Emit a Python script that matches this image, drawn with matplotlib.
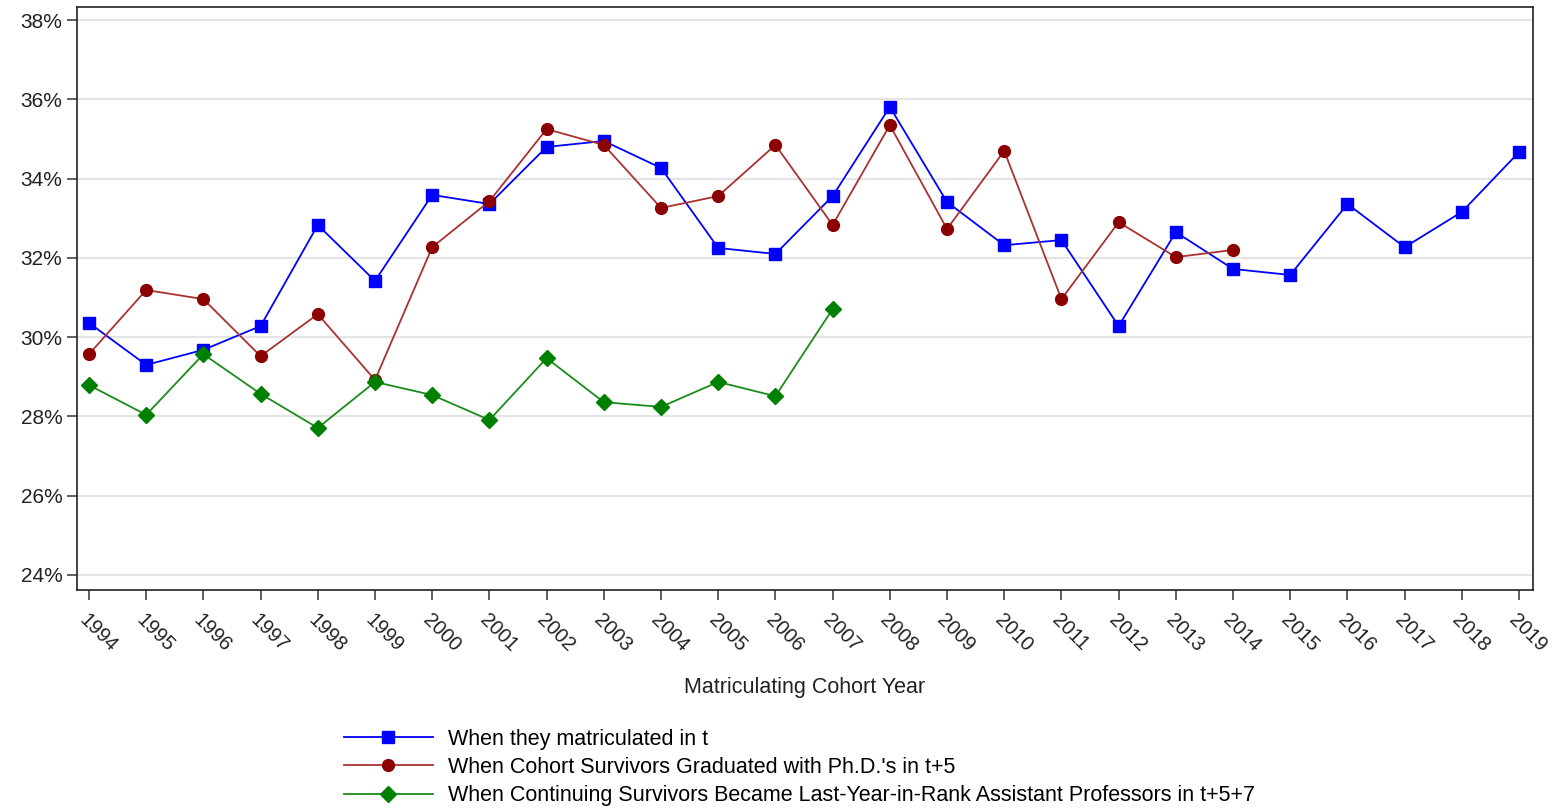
import matplotlib
matplotlib.use('Agg')
import matplotlib.pyplot as plt
from matplotlib.ticker import FuncFormatter

plt.rcParams['font.family'] = ['Liberation Sans', 'DejaVu Sans']

years = list(range(1994, 2020))

# share of cohort, percent
matriculated = [30.36, 29.30, 29.68, 30.28, 32.83, 31.42, 33.59, 33.36, 34.80, 34.95,
                34.27, 32.25, 32.10, 33.56, 35.81, 33.41, 32.32, 32.45, 30.28, 32.65,
                31.72, 31.57, 33.36, 32.27, 33.16, 34.67]
graduated = [29.57, 31.19, 30.96, 29.52, 30.58, 28.92, 32.27, 33.43, 35.25, 34.85,
             33.26, 33.56, 34.85, 32.83, 35.35, 32.73, 34.70, 30.96, 32.90, 32.02,
             32.20]
asst_prof = [28.79, 28.04, 29.57, 28.57, 27.71, 28.87, 28.54, 27.91, 29.47, 28.36,
             28.24, 28.87, 28.51, 30.71]

labels = ["When they matriculated in t",
          "When Cohort Survivors Graduated with Ph.D.'s in t+5",
          "When Continuing Survivors Became Last-Year-in-Rank Assistant Professors in t+5+7"]

fig = plt.figure(figsize=(15.58, 8.09), dpi=100)
ax = fig.add_axes([0.0494, 0.2707, 0.9346, 0.7206])

ax.plot(years, matriculated, color='#0000ff', lw=1.3, marker='s', ms=8.5, label=labels[0])
ax.plot(years[:len(graduated)], graduated, color='#a83232', lw=1.3, marker='o', ms=8.5,
        mfc='#8b0000', mec='#8b0000', label=labels[1])
ax.plot(years[:len(asst_prof)], asst_prof, color='#1a8c1a', lw=1.3, marker='D', ms=8.5,
        mfc='#008000', mec='#008000', label=labels[2])

ax.set_xlim(1993.79, 2019.245)
ax.set_ylim(23.62, 38.33)
ax.set_yticks(range(24, 39, 2))
ax.yaxis.set_major_formatter(FuncFormatter(lambda v, p: '%d%%' % v))
ax.set_xticks(years)
ax.set_xticklabels([str(y) for y in years], rotation=-45, ha='left', va='top',
                   rotation_mode='anchor')
ax.tick_params(axis='both', length=7, width=1.2, color='#444444', labelcolor='#222222')
ax.tick_params(axis='y', labelsize=15)
ax.tick_params(axis='x', labelsize=14.5, pad=8)
ax.grid(axis='y', color='#e4e4e4', lw=1.5)
ax.set_axisbelow(True)
for s in ax.spines.values():
    s.set_linewidth(1.2)
    s.set_color('#222222')

ax.set_xlabel('Matriculating Cohort Year', fontsize=15.5, color='#222222', labelpad=15)

fig.legend(loc='upper left', bbox_to_anchor=(0.221, 0.099),
           bbox_transform=fig.transFigure, frameon=False, fontsize=15.5,
           handlelength=4.1, handletextpad=0.7, labelspacing=0.33, borderaxespad=0,
           borderpad=0)

fig.savefig('out.png', dpi=100)
